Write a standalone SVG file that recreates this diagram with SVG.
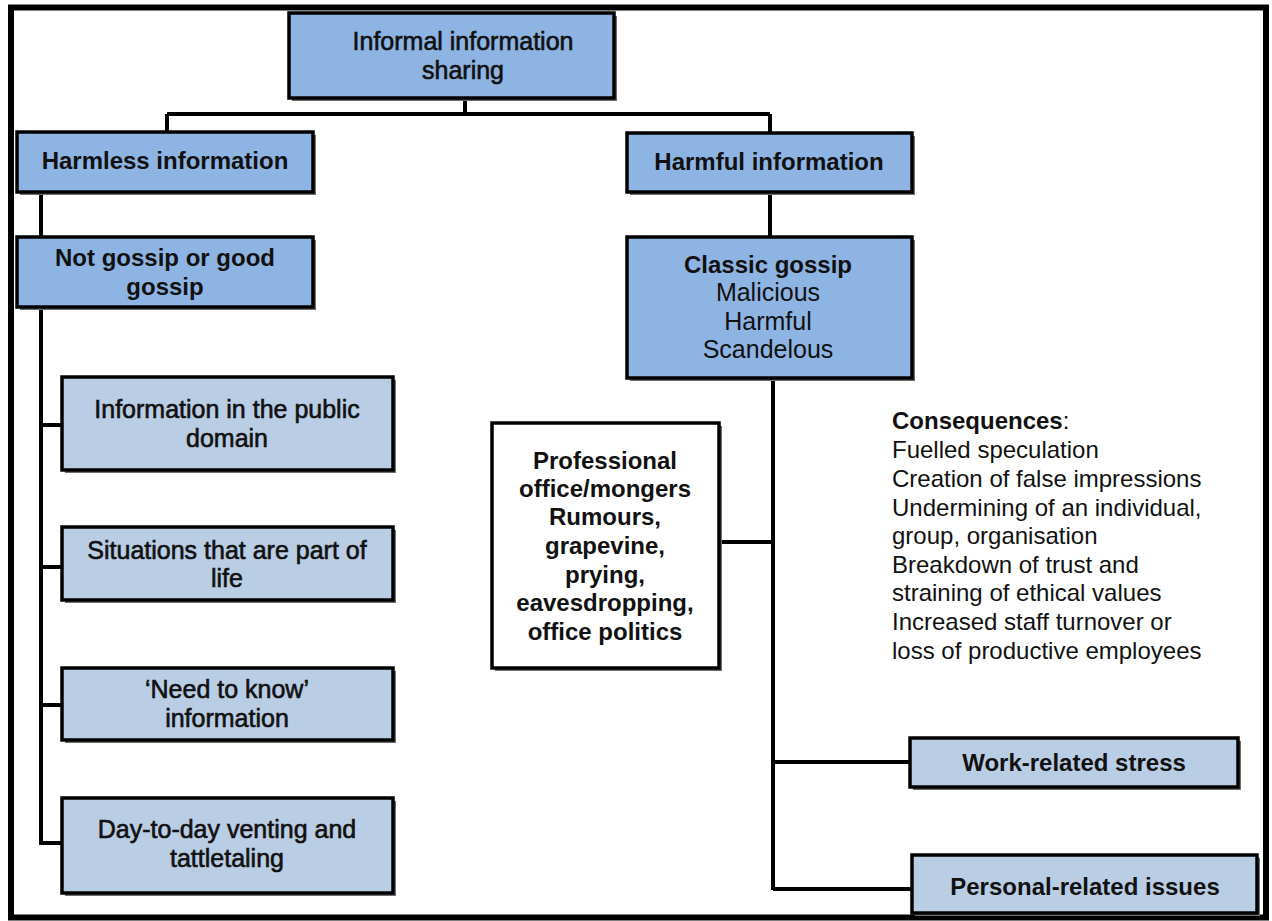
<svg xmlns="http://www.w3.org/2000/svg" width="1272" height="921" viewBox="0 0 1272 921">
  <style>
    .box { stroke: #000; stroke-width: 3.5; }
    .dark { fill: #8EB4E3; }
    .light { fill: #B9CDE5; }
    .plain { fill: #fff; }
    .shadow { fill: #6e6e6e; }
    .t { font-family: "Liberation Sans", Arial, sans-serif; font-size: 25px; fill: #111; text-anchor: middle; }
    .m { stroke: #111; stroke-width: 0.6; }
    .b { font-weight: bold; font-size: 24px; }
    .c { font-family: "Liberation Sans", Arial, sans-serif; font-size: 24px; fill: #111; }
    .line { stroke: #000; stroke-width: 4; fill: none; }
  </style>

  <rect width="1272" height="921" fill="#fff"/>
  <!-- outer frame -->
  <rect x="11" y="7.5" width="1255" height="910" fill="none" stroke="#000" stroke-width="6"/>

  <!-- connectors -->
  <g id="connectors">
    <path class="line" d="M465 98 V114 M167 114 H770 M167 114 V132 M770 114 V133"/>
    <path class="line" d="M41 192 V237 M41 307 V845 M41 425 H62 M41 567 H62 M41 705 H62 M41 843 H62"/>
    <path class="line" d="M770 192 V237 M773 378 V890 M719 542 H773 M773 762 H910 M773 889 H912"/>
  </g>

  <g id="root">
    <rect class="shadow" x="292" y="16" width="325" height="85"/>
    <rect class="box dark" x="289" y="13" width="325" height="85"/>
    <text class="t m" x="463" y="50">Informal information</text>
    <text class="t m" x="463" y="79">sharing</text>
  </g>

  <g id="harmless">
    <rect class="shadow" x="20" y="135" width="296" height="60"/>
    <rect class="box dark" x="17" y="132" width="296" height="60"/>
    <text class="t b" x="165" y="169">Harmless information</text>
  </g>

  <g id="not-gossip">
    <rect class="shadow" x="20" y="240" width="296" height="70"/>
    <rect class="box dark" x="17" y="237" width="296" height="70"/>
    <text class="t b" x="165" y="266">Not gossip or good</text>
    <text class="t b" x="165" y="295">gossip</text>
  </g>

  <g id="public-domain">
    <rect class="shadow" x="65" y="380" width="331" height="93"/>
    <rect class="box light" x="62" y="377" width="331" height="93"/>
    <text class="t m" x="227" y="418">Information in the public</text>
    <text class="t m" x="227" y="447">domain</text>
  </g>

  <g id="part-of-life">
    <rect class="shadow" x="65" y="530" width="331" height="73"/>
    <rect class="box light" x="62" y="527" width="331" height="73"/>
    <text class="t m" x="227" y="559">Situations that are part of</text>
    <text class="t m" x="227" y="587">life</text>
  </g>

  <g id="need-to-know">
    <rect class="shadow" x="65" y="671" width="331" height="72"/>
    <rect class="box light" x="62" y="668" width="331" height="72"/>
    <text class="t m" x="227" y="698">‘Need to know’</text>
    <text class="t m" x="227" y="727">information</text>
  </g>

  <g id="venting">
    <rect class="shadow" x="65" y="801" width="331" height="95"/>
    <rect class="box light" x="62" y="798" width="331" height="95"/>
    <text class="t m" x="227" y="838">Day-to-day venting and</text>
    <text class="t m" x="227" y="867">tattletaling</text>
  </g>

  <g id="harmful">
    <rect class="shadow" x="630" y="136" width="285" height="59"/>
    <rect class="box dark" x="627" y="133" width="285" height="59"/>
    <text class="t b" x="769" y="170">Harmful information</text>
  </g>

  <g id="classic-gossip">
    <rect class="shadow" x="630" y="240" width="285" height="141"/>
    <rect class="box dark" x="627" y="237" width="285" height="141"/>
    <text class="t b" x="768" y="273">Classic gossip</text>
    <text class="t" x="768" y="301">Malicious</text>
    <text class="t" x="768" y="330">Harmful</text>
    <text class="t" x="768" y="358">Scandelous</text>
  </g>

  <g id="mongers">
    <rect class="shadow" x="495" y="426" width="227" height="245"/>
    <rect class="box plain" x="492" y="423" width="227" height="245"/>
    <text class="t b" x="605" y="469">Professional</text>
    <text class="t b" x="605" y="497">office/mongers</text>
    <text class="t b" x="605" y="525">Rumours,</text>
    <text class="t b" x="605" y="554">grapevine,</text>
    <text class="t b" x="605" y="583">prying,</text>
    <text class="t b" x="605" y="611">eavesdropping,</text>
    <text class="t b" x="605" y="640">office politics</text>
  </g>

  <g id="consequences">
    <text class="c" x="892" y="429"><tspan font-weight="bold">Consequences</tspan>:</text>
    <text class="c" x="892" y="458">Fuelled speculation</text>
    <text class="c" x="892" y="487">Creation of false impressions</text>
    <text class="c" x="892" y="516">Undermining of an individual,</text>
    <text class="c" x="892" y="544">group, organisation</text>
    <text class="c" x="892" y="573">Breakdown of trust and</text>
    <text class="c" x="892" y="601">straining of ethical values</text>
    <text class="c" x="892" y="630">Increased staff turnover or</text>
    <text class="c" x="892" y="659">loss of productive employees</text>
  </g>

  <g id="work-stress">
    <rect class="shadow" x="913" y="741" width="328" height="49"/>
    <rect class="box light" x="910" y="738" width="328" height="49"/>
    <text class="t b" x="1074" y="771">Work-related stress</text>
  </g>

  <g id="personal-issues">
    <rect class="shadow" x="915" y="858" width="345" height="58"/>
    <rect class="box light" x="912" y="855" width="345" height="58"/>
    <text class="t b" x="1085" y="895">Personal-related issues</text>
  </g>
</svg>
